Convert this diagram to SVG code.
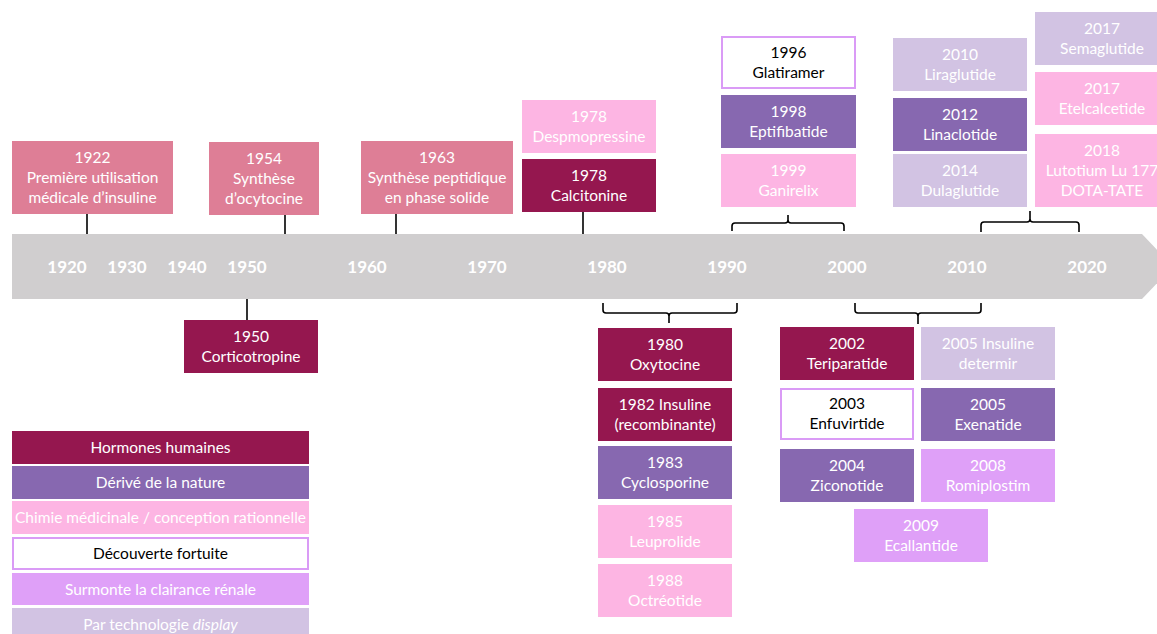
<svg xmlns="http://www.w3.org/2000/svg" width="1157" height="634" viewBox="0 0 1157 634">
<style>
.ev{fill:#DE7E96}.hh{fill:#95174F}.dn{fill:#8768B0}.cm{fill:#FDB5E3}.df{fill:#fff;stroke:#DA9BF6;stroke-width:2}.sr{fill:#DFA0F8}.pt{fill:#D2C3E3}
text{font-family:Lato,"Open Sans","Liberation Sans",sans-serif;font-size:15.5px;fill:#fff;text-anchor:middle}
text.k{fill:#000}
text.yr{font-weight:bold;font-size:17px}
.c{fill:none;stroke:#000;stroke-width:1.6}
</style>
<rect width="1157" height="634" fill="#fff"/>
<g id="timeline">
<polygon points="12,234 1142,234 1173,266.5 1142,299 12,299" fill="#D0CECF"/>
<text class="yr" x="67" y="273">1920</text>
<text class="yr" x="127" y="273">1930</text>
<text class="yr" x="187" y="273">1940</text>
<text class="yr" x="247" y="273">1950</text>
<text class="yr" x="367" y="273">1960</text>
<text class="yr" x="487" y="273">1970</text>
<text class="yr" x="607" y="273">1980</text>
<text class="yr" x="727" y="273">1990</text>
<text class="yr" x="847" y="273">2000</text>
<text class="yr" x="967" y="273">2010</text>
<text class="yr" x="1087" y="273">2020</text>
</g>
<g id="connectors">
<line class="c" x1="87" y1="214" x2="87" y2="234"/>
<line class="c" x1="285" y1="215" x2="285" y2="234"/>
<line class="c" x1="396" y1="214" x2="396" y2="234"/>
<line class="c" x1="583" y1="212" x2="583" y2="234"/>
<line class="c" x1="247" y1="299" x2="247" y2="320"/>
<path class="c" d="M732,231 V226 Q732,223 735,223 H785 Q788,223 788,220 V215 M788,220 Q788,223 791,223 H841 Q844,223 844,226 V231"/>
<path class="c" d="M981,232 V225 Q981,222 984,222 H1027 Q1030,222 1030,219 V211 M1030,219 Q1030,222 1033,222 H1076 Q1079,222 1079,225 V232"/>
<path class="c" d="M603,303 V310 Q603,313 606,313 H666 Q669,313 669,316 V323 M669,316 Q669,313 672,313 H734 Q737,313 737,310 V303"/>
<path class="c" d="M855,303 V310 Q855,313 858,313 H915 Q918,313 918,316 V324 M918,316 Q918,313 921,313 H978 Q981,313 981,310 V303"/>
</g>
<g id="n1922"><rect class="ev" x="12" y="141" width="161" height="73"/><text x="92.5" y="162.5">1922</text><text x="92.5" y="182.5">Première utilisation</text><text x="92.5" y="202.5">médicale d’insuline</text></g>
<g id="n1954"><rect class="ev" x="209" y="142" width="110" height="73"/><text x="264" y="163.5">1954</text><text x="264" y="183.5">Synthèse</text><text x="264" y="203.5">d’ocytocine</text></g>
<g id="n1963"><rect class="ev" x="361" y="141" width="152" height="73"/><text x="437" y="162.5">1963</text><text x="437" y="182.5">Synthèse peptidique</text><text x="437" y="202.5">en phase solide</text></g>
<g id="n1978d"><rect class="cm" x="522" y="100" width="134" height="53"/><text x="589" y="121.5">1978</text><text x="589" y="141.5">Despmopressine</text></g>
<g id="n1978c"><rect class="hh" x="522" y="159" width="134" height="53"/><text x="589" y="180.5">1978</text><text x="589" y="200.5">Calcitonine</text></g>
<g id="n1996"><rect class="df" x="722" y="37" width="133" height="51"/><text class="k" x="788.5" y="57.5">1996</text><text class="k" x="788.5" y="77.5">Glatiramer</text></g>
<g id="n1998"><rect class="dn" x="721" y="95" width="135" height="53"/><text x="788.5" y="116.5">1998</text><text x="788.5" y="136.5">Eptifibatide</text></g>
<g id="n1999"><rect class="cm" x="721" y="154" width="135" height="53"/><text x="788.5" y="175.5">1999</text><text x="788.5" y="195.5">Ganirelix</text></g>
<g id="n2010"><rect class="pt" x="893" y="38" width="134" height="53"/><text x="960" y="59.5">2010</text><text x="960" y="79.5">Liraglutide</text></g>
<g id="n2012"><rect class="dn" x="893" y="98" width="134" height="53"/><text x="960" y="119.5">2012</text><text x="960" y="139.5">Linaclotide</text></g>
<g id="n2014"><rect class="pt" x="893" y="154" width="134" height="53"/><text x="960" y="175.5">2014</text><text x="960" y="195.5">Dulaglutide</text></g>
<g id="n2017s"><rect class="pt" x="1035" y="12" width="134" height="53"/><text x="1102" y="33.5">2017</text><text x="1102" y="53.5">Semaglutide</text></g>
<g id="n2017e"><rect class="cm" x="1035" y="72" width="134" height="53"/><text x="1102" y="93.5">2017</text><text x="1102" y="113.5">Etelcalcetide</text></g>
<g id="n2018"><rect class="cm" x="1035" y="134" width="134" height="73"/><text x="1102" y="155.5">2018</text><text x="1102" y="175.5">Lutotium Lu 177</text><text x="1102" y="195.5">DOTA-TATE</text></g>
<g id="n1950"><rect class="hh" x="184" y="320" width="134" height="53"/><text x="251" y="341.5">1950</text><text x="251" y="361.5">Corticotropine</text></g>
<g id="n1980"><rect class="hh" x="598" y="328" width="134" height="53"/><text x="665" y="349.5">1980</text><text x="665" y="369.5">Oxytocine</text></g>
<g id="n1982"><rect class="hh" x="598" y="388" width="134" height="53"/><text x="665" y="409.5">1982 Insuline</text><text x="665" y="429.5">(recombinante)</text></g>
<g id="n1983"><rect class="dn" x="598" y="446" width="134" height="53"/><text x="665" y="467.5">1983</text><text x="665" y="487.5">Cyclosporine</text></g>
<g id="n1985"><rect class="cm" x="598" y="505" width="134" height="53"/><text x="665" y="526.5">1985</text><text x="665" y="546.5">Leuprolide</text></g>
<g id="n1988"><rect class="cm" x="598" y="564" width="134" height="53"/><text x="665" y="585.5">1988</text><text x="665" y="605.5">Octréotide</text></g>
<g id="n2002"><rect class="hh" x="780" y="327" width="134" height="53"/><text x="847" y="348.5">2002</text><text x="847" y="368.5">Teriparatide</text></g>
<g id="n2003"><rect class="df" x="781" y="389" width="132" height="50"/><text class="k" x="847" y="409">2003</text><text class="k" x="847" y="429">Enfuvirtide</text></g>
<g id="n2004"><rect class="dn" x="780" y="449" width="134" height="53"/><text x="847" y="470.5">2004</text><text x="847" y="490.5">Ziconotide</text></g>
<g id="n2005i"><rect class="pt" x="921" y="327" width="134" height="53"/><text x="988" y="348.5">2005 Insuline</text><text x="988" y="368.5">determir</text></g>
<g id="n2005e"><rect class="dn" x="921" y="388" width="134" height="53"/><text x="988" y="409.5">2005</text><text x="988" y="429.5">Exenatide</text></g>
<g id="n2008"><rect class="sr" x="921" y="449" width="134" height="53"/><text x="988" y="470.5">2008</text><text x="988" y="490.5">Romiplostim</text></g>
<g id="n2009"><rect class="sr" x="854" y="509" width="134" height="53"/><text x="921" y="530.5">2009</text><text x="921" y="550.5">Ecallantide</text></g>
<g id="legend">
<g id="lg1"><rect class="hh" x="12" y="431" width="297" height="33"/><text x="160.5" y="453">Hormones humaines</text></g>
<g id="lg2"><rect class="dn" x="12" y="466" width="297" height="33"/><text x="160.5" y="488">Dérivé de la nature</text></g>
<g id="lg3"><rect class="cm" x="12" y="501" width="297" height="33"/><text x="160.5" y="523">Chimie médicinale / conception rationnelle</text></g>
<g id="lg4"><rect class="df" x="13" y="538" width="295" height="31"/><text class="k" x="160.5" y="558.5">Découverte fortuite</text></g>
<g id="lg5"><rect class="sr" x="12" y="573" width="297" height="32"/><text x="160.5" y="594.5">Surmonte la clairance rénale</text></g>
<g id="lg6"><rect class="pt" x="12" y="608" width="297" height="33"/><text x="160.5" y="630">Par technologie <tspan font-style="italic">display</tspan></text></g>
</g>
</svg>
